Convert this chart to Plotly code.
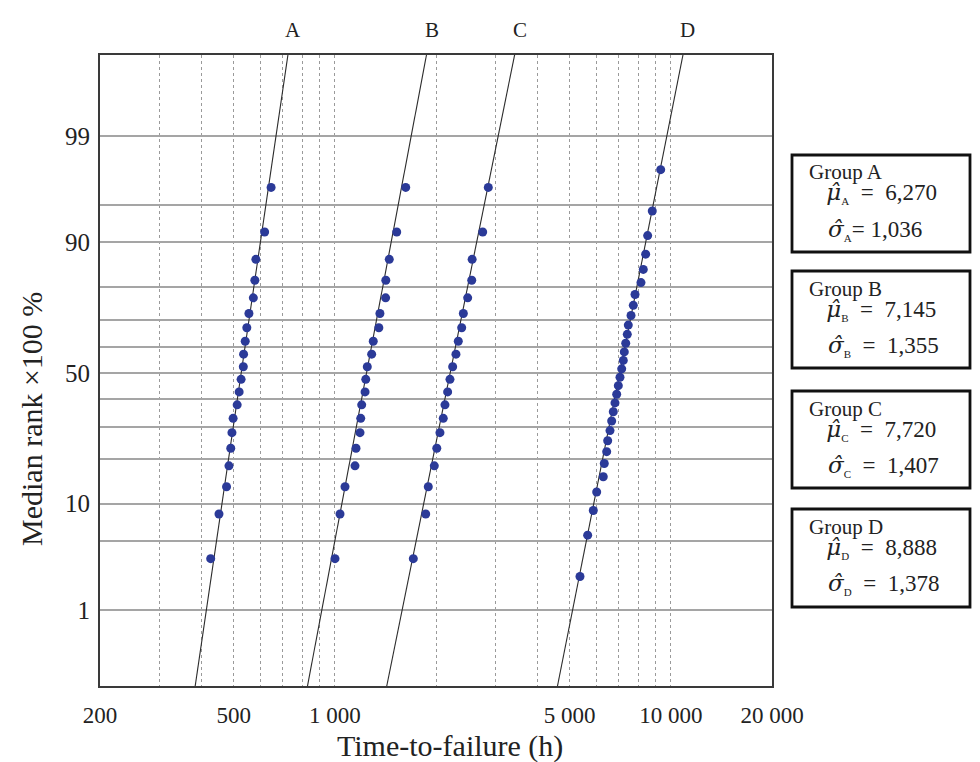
import plotly.graph_objects as go
from statistics import NormalDist
import math

# ---------------- data ----------------
groups = ["A", "B", "C", "D"]

# median ranks (%) for the 20-sample groups and the 30-sample group
rank_20 = [3.43, 8.33, 13.24, 18.14, 23.04, 27.94, 32.84, 37.75, 42.65, 47.55,
           52.45, 57.35, 62.25, 67.16, 72.06, 76.96, 81.86, 86.76, 91.67, 96.57]
rank_30 = [2.30, 5.59, 8.88, 12.17, 15.46, 18.75, 22.04, 25.33, 28.62, 31.91,
           35.20, 38.49, 41.78, 45.07, 48.36, 51.64, 54.93, 58.22, 61.51, 64.80,
           68.09, 71.38, 74.67, 77.96, 81.25, 84.54, 87.83, 91.12, 94.41, 97.70]

time_A = [427, 452, 476, 484, 490, 494, 498, 512, 519, 526,
          534, 535, 541, 547, 555, 572, 578, 582, 618, 646]
time_B = [1001, 1036, 1072, 1148, 1156, 1188, 1194, 1202, 1230, 1236,
          1249, 1287, 1301, 1352, 1362, 1416, 1418, 1452, 1528, 1625]
time_C = [1712, 1864, 1897, 1977, 2011, 2055, 2102, 2127, 2166, 2201,
          2242, 2293, 2330, 2385, 2412, 2485, 2555, 2562, 2754, 2862]
time_D = [5365, 5655, 5877, 6015, 6293, 6337, 6442, 6486, 6590, 6666,
          6740, 6819, 6899, 6976, 7057, 7140, 7218, 7268, 7339, 7419,
          7470, 7611, 7731, 7822, 8149, 8279, 8414, 8531, 8804, 9327]

# fitted lognormal lines: time at the two probability limits
fit_p = [0.107, 99.91]
fit_A = [384, 725]
fit_B = [829, 1874]
fit_C = [1427, 3428]
fit_D = [4598, 10866]

mu_text = ["6,270", "7,145", "7,720", "8,888"]
sigma_text = ["1,036", "1,355", "1,407", "1,378"]

# axis ticks / grids
x_grid_vals = [200, 300, 400, 500, 600, 700, 800, 900, 1000,
               2000, 3000, 4000, 5000, 6000, 7000, 8000, 9000, 10000, 20000]
x_labels = {200: "200", 500: "500", 1000: "1 000", 5000: "5 000",
            10000: "10 000", 20000: "20 000"}
x_major_vals = [1000, 10000]
y_grid_p = [1, 5, 10, 20, 30, 40, 50, 60, 70, 80, 90, 95, 99]
y_labels = {1: "1", 10: "10", 50: "50", 90: "90", 99: "99"}
x_title = "Time-to-failure (h)"
y_title = "Median rank ×100 %"

# ---------------- helpers ----------------
nd = NormalDist()


def z(p):
    return nd.inv_cdf(p / 100.0)


FONT = "Liberation Serif"
SYM_FONT = "DejaVu Serif"
OFF = 8                      # page body margin of the html page
W, H = 980 - 2 * OFF, 762 - OFF
PL, PR, PT, PB = 100, 772, 55, 686   # plot area in page pixels
ML, MT = PL - OFF, PT - OFF
MR, MB = (OFF + W) - PR, (OFF + H) - PB
PW, PH = PR - PL, PB - PT


def px(xp):
    return (xp - PL) / PW


def py(yp):
    return (PB - yp) / PH


ranks = {"A": rank_20, "B": rank_20, "C": rank_20, "D": rank_30}
times = {"A": time_A, "B": time_B, "C": time_C, "D": time_D}
fits = {"A": fit_A, "B": fit_B, "C": fit_C, "D": fit_D}

fig = go.Figure()
for g in groups:
    fig.add_trace(go.Scatter(
        x=fits[g], y=[z(p) for p in fit_p], mode="lines",
        line=dict(color="#2b2b2b", width=1.1), showlegend=False,
        hoverinfo="skip"))
for g in groups:
    fig.add_trace(go.Scatter(
        x=times[g], y=[z(p) for p in ranks[g]], mode="markers",
        marker=dict(color="#2b3a98", size=9, line=dict(width=0)),
        name="Group " + g, showlegend=False))

ymin, ymax = -3.07, 3.12
xr = [math.log10(200), math.log10(20000)]

fig.update_layout(
    width=W, height=H,
    margin=dict(l=ML, r=MR, t=MT, b=MB),
    paper_bgcolor="white", plot_bgcolor="white",
    font=dict(family=FONT, color="#222", size=17),
    xaxis=dict(
        type="log", range=xr, automargin=False,
        tickmode="array", tickvals=x_grid_vals,
        ticktext=[x_labels.get(v, "") for v in x_grid_vals],
        ticks="", ticklabelstandoff=7,
        showgrid=True, gridcolor="#9a9a9a", griddash="dot", gridwidth=1,
        showline=True, mirror=True, linecolor="#3a3a3a", linewidth=2,
        zeroline=False, tickfont=dict(size=23),
    ),
    xaxis2=dict(
        type="log", range=xr, overlaying="x", anchor="y", side="bottom",
        tickmode="array", tickvals=x_major_vals, showticklabels=False,
        ticks="", showgrid=True, gridcolor="#404040", griddash="dash",
        gridwidth=1.2, showline=False, zeroline=False, automargin=False,
    ),
    yaxis=dict(
        range=[ymin, ymax], automargin=False,
        tickmode="array", tickvals=[z(p) for p in y_grid_p],
        ticktext=[y_labels.get(p, "") for p in y_grid_p],
        ticks="", ticklabelstandoff=3,
        showgrid=True, gridcolor="#a5a5a5", gridwidth=1.6,
        showline=True, mirror=True, linecolor="#3a3a3a", linewidth=2,
        zeroline=False, tickfont=dict(size=25),
    ),
)

# axis titles (placed as in the reference, slightly off-centre)
fig.add_annotation(x=px(450), y=py(746), xref="paper", yref="paper",
                   text=x_title, showarrow=False, xanchor="center", yanchor="middle",
                   font=dict(family=FONT, size=30, color="#222"))
fig.add_annotation(x=px(31), y=py(419), xref="paper", yref="paper",
                   text=y_title, showarrow=False, textangle=-90,
                   xanchor="center", yanchor="middle",
                   font=dict(family=FONT, size=30, color="#222"))

# group letters above the lines
for g in groups:
    fig.add_annotation(
        x=math.log10(fits[g][1]), xref="x", y=py(30), yref="paper",
        text=g, showarrow=False, xshift=5, yanchor="middle",
        font=dict(family=FONT, size=21, color="#222"))

# parameter boxes on the right
NB = "\u00a0"
box_top = [155, 271, 391, 509]
box_bot = [252, 368, 488, 607]
mu_sep = [NB * 2 + "=" + NB * 2] * 4
sig_sep = ["=" + NB, NB * 2 + "=" + NB * 2, NB * 2 + "=" + NB * 2, NB * 2 + "=" + NB * 2]
for i, g in enumerate(groups):
    t = box_top[i]
    fig.add_shape(type="rect", xref="paper", yref="paper",
                  x0=px(792), x1=px(970), y0=py(box_bot[i]), y1=py(t),
                  line=dict(color="#111", width=2.8), fillcolor="white")
    sub = '<sub><span style="font-size:11px">' + g + '</span></sub>'
    mu_sym = '<span style="font-family:' + SYM_FONT + '"><i>\u03bc\u0302</i></span>'
    sg_sym = '<span style="font-family:' + SYM_FONT + '"><i>\u03c3\u0302</i></span>'
    head = ('<span style="font-size:21px">Group ' + g + '</span><br>'
            '<span style="font-size:23px">' + NB * 3 + mu_sym + sub + mu_sep[i]
            + mu_text[i] + '</span>')
    fig.add_annotation(x=px(807), y=py(t + 29), xref="paper", yref="paper",
                       xanchor="left", yanchor="middle", showarrow=False,
                       align="left", text=head,
                       font=dict(family=FONT, size=16, color="#222"))
    fig.add_annotation(x=px(826), y=py(t + 75), xref="paper", yref="paper",
                       xanchor="left", yanchor="middle", showarrow=False,
                       text=sg_sym + sub + sig_sep[i] + sigma_text[i],
                       font=dict(family=FONT, size=23, color="#222"))

fig.write_html("out.html")
